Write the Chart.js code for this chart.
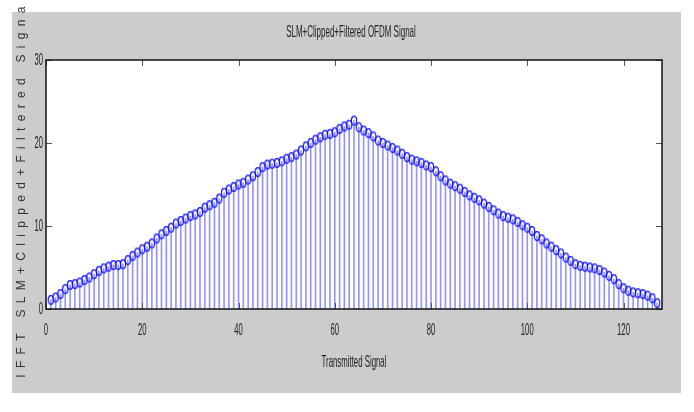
<!DOCTYPE html>
<html>
<head>
<meta charset="utf-8">
<script src="https://cdn.jsdelivr.net/npm/chart.js"></script>
<style>
html,body{margin:0;padding:0;background:#fff;}
#wrap{width:694px;height:412px;}
</style>
</head>
<body>
<div id="wrap"><canvas id="c" width="694" height="412"></canvas></div>
<script>
// ---- data ----
const titleText = 'SLM+Clipped+Filtered OFDM Signal';
const xAxisLabel = 'Transmitted Signal';
const yAxisLabel = 'IFFT SLM+Clipped+Filtered Signal';
const xTickValues = [0, 20, 40, 60, 80, 100, 120];
const yTickValues = [0, 10, 20, 30];
const signalValues = [
  1.1, 1.4, 1.8, 2.4, 2.9, 3.0, 3.2, 3.5, 3.8, 4.2,
  4.6, 4.9, 5.1, 5.3, 5.3, 5.4, 5.9, 6.4, 6.8, 7.2,
  7.5, 7.9, 8.5, 9.0, 9.4, 9.8, 10.3, 10.6, 10.9, 11.2,
  11.4, 11.7, 12.2, 12.5, 12.8, 13.3, 14.0, 14.4, 14.7, 15.0,
  15.2, 15.6, 16.0, 16.5, 17.1, 17.4, 17.5, 17.6, 17.8, 18.1,
  18.3, 18.6, 19.1, 19.6, 20.0, 20.4, 20.7, 21.0, 21.1, 21.3,
  21.7, 22.0, 22.2, 22.7, 21.9, 21.5, 21.2, 20.8, 20.3, 20.0,
  19.7, 19.4, 19.1, 18.7, 18.3, 18.0, 17.8, 17.6, 17.3, 17.1,
  16.6, 16.0, 15.5, 15.1, 14.8, 14.5, 14.1, 13.7, 13.4, 13.1,
  12.7, 12.3, 11.9, 11.5, 11.2, 11.0, 10.8, 10.5, 10.1, 9.8,
  9.4, 8.8, 8.4, 7.9, 7.5, 7.1, 6.7, 6.2, 5.8, 5.4,
  5.2, 5.1, 5.0, 4.9, 4.7, 4.4, 4.0, 3.6, 3.0, 2.5,
  2.2, 2.0, 1.9, 1.8, 1.6, 1.3, 0.7
];
const sampleIndex = signalValues.map((_, k) => k + 1);

// ---- build ----
const points = sampleIndex.map((xv, k) => ({x: xv, y: signalValues[k]}));

// ellipse ring marker
const ring = document.createElement('canvas');
ring.width = 8; ring.height = 12;
(function(){
  const c = ring.getContext('2d');
  c.strokeStyle = '#1010ff';
  c.lineWidth = 1.2;
  c.beginPath();
  c.ellipse(4, 6, 2.6, 4.4, 0, 0, Math.PI * 2);
  c.stroke();
})();

function condensed(ctx, sx, spacing, dx, fn) {
  const orig = CanvasRenderingContext2D.prototype.fillText;
  ctx.fillText = function(t, x, y) {
    this.save();
    if (spacing != null) this.letterSpacing = spacing;
    this.translate(x + dx, y);
    this.scale(sx, 1);
    orig.call(this, t, 0, 0);
    this.restore();
  };
  try { fn(); } finally { delete ctx.fillText; }
}
function patch(obj, name, sx, sp, dx) {
  if (!obj || obj['_p_' + name]) return;
  const orig = obj[name];
  obj[name] = function(...args) {
    let r;
    condensed(this.ctx, sx, sp, dx || 0, () => { r = orig.apply(this, args); });
    return r;
  };
  obj['_p_' + name] = true;
}

const textStyle = {
  id: 'textStyle',
  beforeDraw(chart) {
    const {x, y} = chart.scales;
    patch(x, 'drawLabels', 0.45, null, 0);
    patch(x, 'drawTitle', 0.46, null, 0);
    patch(y, 'drawLabels', 0.45, null, 0);
    patch(y, 'drawTitle', 1, '6.3px', 0);
    if (chart.titleBlock) patch(chart.titleBlock, 'draw', 0.47, null, 20);
  }
};

const frame = {
  id: 'frame',
  beforeDraw(chart) {
    const {ctx, chartArea: a} = chart;
    ctx.save();
    ctx.fillStyle = '#ffffff';
    ctx.fillRect(0, 0, chart.width, chart.height);
    ctx.fillStyle = '#cccccc';
    ctx.fillRect(12, 12, 669, 381);
    ctx.fillStyle = '#ffffff';
    ctx.fillRect(a.left, a.top, a.right - a.left, a.bottom - a.top);
    ctx.restore();
  },
  afterDatasetsDraw(chart) {
    const {ctx, chartArea: a, scales: {x, y}} = chart;
    ctx.save();
    const L = 6;
    ctx.lineWidth = 1;
    ctx.strokeStyle = '#555';
    ctx.beginPath();
    x.ticks.forEach(t => {
      const px = Math.round(x.getPixelForValue(t.value)) + 0.5;
      ctx.moveTo(px, a.top); ctx.lineTo(px, a.top + L);
      ctx.moveTo(px, a.bottom); ctx.lineTo(px, a.bottom - L);
    });
    y.ticks.forEach(t => {
      const py = Math.round(y.getPixelForValue(t.value)) + 0.5;
      ctx.moveTo(a.left, py); ctx.lineTo(a.left + L, py);
      ctx.moveTo(a.right, py); ctx.lineTo(a.right - L, py);
    });
    ctx.stroke();
    ctx.strokeStyle = '#111';
    ctx.lineWidth = 1.5;
    ctx.strokeRect(a.left, a.top, a.right - a.left, a.bottom - a.top);
    ctx.restore();
  }
};

const tickFont = {family: "'Liberation Sans', Arial, sans-serif", size: 17};

new Chart(document.getElementById('c'), {
  type: 'bar',
  data: {
    datasets: [
      {
        type: 'line',
        data: points,
        showLine: false,
        pointStyle: ring,
        pointRadius: 4,
        order: 1
      },
      {
        type: 'bar',
        data: points,
        backgroundColor: 'rgba(60,60,255,0.55)',
        borderWidth: 0,
        barThickness: 1,
        order: 2
      }
    ]
  },
  options: {
    responsive: false,
    devicePixelRatio: 1,
    animation: false,
    events: [],
    layout: {padding: {left: 0, right: 32, top: 0, bottom: 0}},
    plugins: {
      legend: {display: false},
      tooltip: {enabled: false},
      title: {
        display: true,
        text: titleText,
        color: '#222',
        font: {family: "'Liberation Sans', Arial, sans-serif", size: 17, weight: 'normal'},
        padding: {top: 21.8, bottom: 17.8}
      }
    },
    scales: {
      x: {
        type: 'linear',
        min: 0,
        max: 128,
        offset: false,
        grid: {display: false, drawTicks: false, offset: false},
        border: {display: false},
        ticks: {
          stepSize: 20,
          includeBounds: false,
          autoSkip: false,
          maxRotation: 0,
          color: '#222',
          font: tickFont,
          padding: 10.8,
          callback: v => xTickValues.includes(v) ? String(v) : null
        },
        title: {
          display: true,
          text: xAxisLabel,
          color: '#222',
          font: {family: "'Liberation Sans', Arial, sans-serif", size: 17},
          padding: {top: 0, bottom: 39.8}
        },
        afterFit: s => { s.height = 103; }
      },
      y: {
        min: 0,
        max: 30,
        grid: {display: false, drawTicks: false},
        border: {display: false},
        ticks: {
          stepSize: 10,
          color: '#222',
          font: tickFont,
          padding: 3,
          callback: v => yTickValues.includes(v) ? String(v) : null
        },
        title: {
          display: true,
          text: yAxisLabel,
          color: '#333',
          font: {family: "'Liberation Sans', Arial, sans-serif", size: 12},
          padding: {top: 14.8, bottom: 0}
        },
        afterFit: s => { s.width = 46; }
      }
    }
  },
  plugins: [frame, textStyle]
});
</script>
</body>
</html>
